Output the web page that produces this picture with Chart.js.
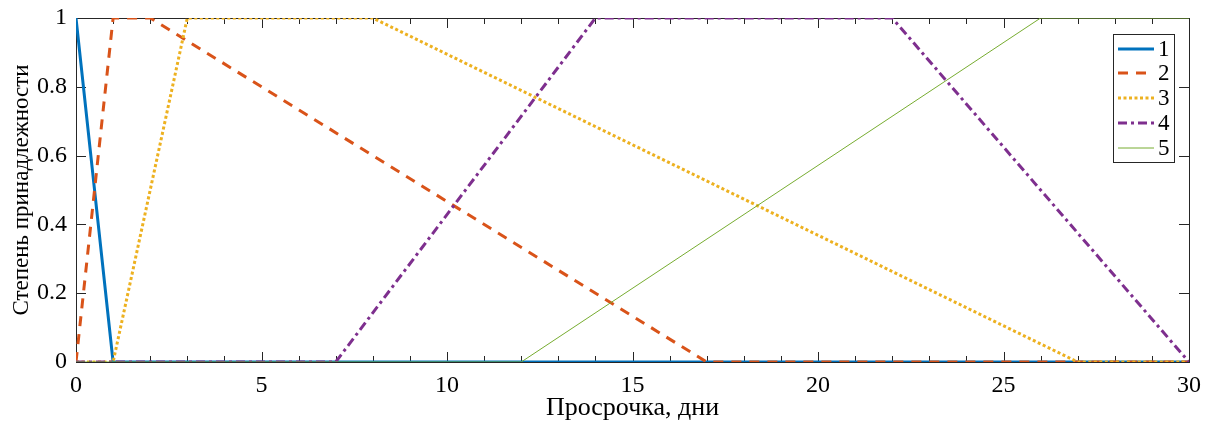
<!DOCTYPE html>
<html>
<head>
<meta charset="utf-8">
<script src="https://cdn.jsdelivr.net/npm/chart.js@4.4.1/dist/chart.umd.min.js"></script>
<style>
    html, body { margin: 0; padding: 0; background: #fff; }
    #wrap { width: 1215px; height: 431px; }
</style>
</head>
<body>
<div id="wrap"><canvas id="chart" width="1215" height="431"></canvas></div>
<script>
// Data
const seriesNames = ['1', '2', '3', '4', '5'];
const x1 = [0, 1, 30];
const y1 = [1, 0, 0];
const x2 = [0, 1, 2, 17, 30];
const y2 = [0, 1, 1, 0, 0];
const x3 = [0, 1, 3, 8, 27, 30];
const y3 = [0, 0, 1, 1, 0, 0];
const x4 = [0, 7, 14, 22, 30];
const y4 = [0, 0, 1, 1, 0];
const x5 = [0, 12, 26, 30];
const y5 = [0, 0, 1, 1];

const xTicks = [0, 5, 10, 15, 20, 25, 30];
const xMinorTicks = [...Array(31).keys()];
const yTicks = [0, 0.2, 0.4, 0.6, 0.8, 1];

const FONT = "'Liberation Serif', 'Times New Roman', serif";
const AXIS = '#262626';

function pts(xs, ys) {
    return xs.map((x, i) => ({ x: x, y: ys[i] }));
}

// line styles, MATLAB-like
const styles = [
    { color: '#0072BD', width: 3, dash: [] },
    { color: '#D95319', width: 3, dash: [10, 8] },
    { color: '#EDB120', width: 3, dash: [3, 2.5] },
    { color: '#7E2F8E', width: 3, dash: [9, 4, 3, 4] },
    { color: '#77AC30', width: 1, dash: [] }
];
const allData = [pts(x1, y1), pts(x2, y2), pts(x3, y3), pts(x4, y4), pts(x5, y5)];

const datasets = allData.map((d, i) => ({
    label: seriesNames[i],
    data: d,
    borderColor: styles[i].color,
    backgroundColor: styles[i].color,
    borderWidth: styles[i].width,
    borderDash: styles[i].dash,
    pointRadius: 0,
    tension: 0,
    fill: false,
    order: seriesNames.length - i   // later series on top
}));

// box + inward ticks on all four sides
const boxPlugin = {
    id: 'boxTicks',
    beforeDatasetsDraw(chart) {
        const { ctx, chartArea: a, scales } = chart;
        ctx.save();
        ctx.strokeStyle = AXIS;
        ctx.lineWidth = 1;
        ctx.setLineDash([]);
        ctx.strokeRect(a.left + 0.5, a.top + 0.5, a.right - a.left, a.bottom - a.top);
        ctx.beginPath();
        xMinorTicks.forEach(v => {
            const px = Math.round(scales.x.getPixelForValue(v)) + 0.5;
            const len = xTicks.includes(v) ? 10 : 6;
            ctx.moveTo(px, a.bottom); ctx.lineTo(px, a.bottom - len);
            ctx.moveTo(px, a.top); ctx.lineTo(px, a.top + len);
        });
        yTicks.forEach(v => {
            const py = Math.round(scales.y.getPixelForValue(v)) + 0.5;
            ctx.moveTo(a.left, py); ctx.lineTo(a.left + 10, py);
            ctx.moveTo(a.right, py); ctx.lineTo(a.right - 10, py);
        });
        ctx.stroke();
        ctx.restore();
    },
    afterDraw(chart) {
        // legend box in the upper right corner
        const { ctx } = chart;
        const bx = 1113, by = 34, bw = 61, bh = 128;
        ctx.save();
        ctx.fillStyle = '#fff';
        ctx.fillRect(bx, by, bw, bh);
        ctx.strokeStyle = AXIS;
        ctx.lineWidth = 1;
        ctx.strokeRect(bx + 0.5, by + 0.5, bw, bh);
        ctx.font = '23px ' + FONT;
        ctx.textBaseline = 'middle';
        ctx.textAlign = 'left';
        seriesNames.forEach((name, i) => {
            const y = Math.round(by + 14.5 + i * 24.75);
            ctx.beginPath();
            ctx.strokeStyle = styles[i].color;
            ctx.lineWidth = styles[i].width;
            ctx.setLineDash(styles[i].dash);
            ctx.moveTo(bx + 5, y);
            ctx.lineTo(bx + 41, y);
            ctx.stroke();
            ctx.fillStyle = '#000';
            ctx.fillText(name, bx + 45, y + 1);
        });
        ctx.restore();
    }
};

new Chart(document.getElementById('chart').getContext('2d'), {
    type: 'line',
    data: { datasets: datasets },
    options: {
        responsive: false,
        animation: false,
        devicePixelRatio: 1,
        layout: { padding: { top: 18, right: 26, left: 0, bottom: 0 } },
        plugins: {
            legend: { display: false },
            tooltip: { enabled: false }
        },
        scales: {
            x: {
                type: 'linear',
                min: 0,
                max: 30,
                grid: { display: false, drawTicks: false },
                border: { display: false },
                afterBuildTicks: s => { s.ticks = xTicks.map(v => ({ value: v })); },
                afterFit: s => { s.height = 69; s.paddingLeft = 0; s.paddingRight = 0; },
                ticks: {
                    color: '#000',
                    font: { family: FONT, size: 24 },
                    padding: 9,
                    maxRotation: 0,
                    callback: v => String(v)
                },
                title: {
                    display: true,
                    text: 'Просрочка, дни',
                    color: '#000',
                    font: { family: FONT, size: 26 },
                    padding: { top: 0, bottom: 7 }
                }
            },
            y: {
                type: 'linear',
                min: 0,
                max: 1,
                grid: { display: false, drawTicks: false },
                border: { display: false },
                afterBuildTicks: s => { s.ticks = yTicks.map(v => ({ value: v })); },
                afterFit: s => { s.width = 76; s.paddingTop = 0; s.paddingBottom = 0; },
                ticks: {
                    color: '#000',
                    font: { family: FONT, size: 24 },
                    padding: 9,
                    callback: v => String(Math.round(v * 10) / 10)
                },
                title: {
                    display: true,
                    text: 'Степень принадлежности',
                    color: '#000',
                    font: { family: FONT, size: 23 },
                    padding: { top: 8, bottom: 0 }
                }
            }
        }
    },
    plugins: [boxPlugin]
});
</script>
</body>
</html>
